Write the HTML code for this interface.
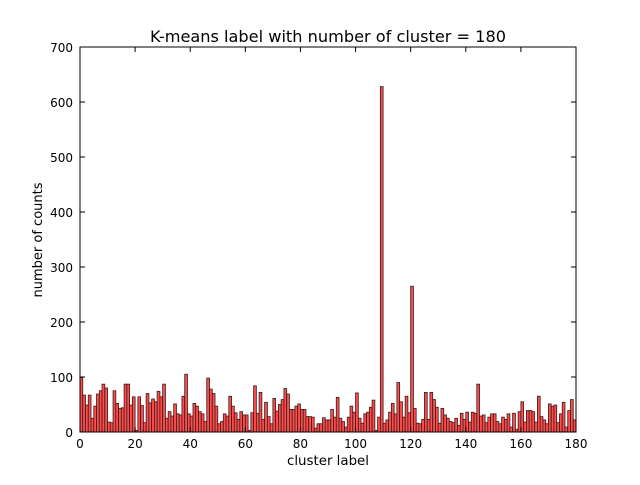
<!DOCTYPE html>
<html><head><meta charset="utf-8"><style>
body{margin:0;background:#fff;}
svg text{font-family:"DejaVu Sans","Liberation Sans",sans-serif;}
</style></head><body>
<svg id="chart" width="640" height="480">
<rect x="0" y="0" width="640" height="480" fill="#fff"/>
<text x="328" y="42" font-size="16" text-anchor="middle" textLength="356" lengthAdjust="spacingAndGlyphs">K-means label with number of cluster = 180</text>
<g id="bars"></g>
<rect x="80" y="47" width="496" height="385" fill="none" stroke="#000" stroke-width="1"/>
<g id="axes"></g>
<text x="328" y="465" font-size="13" text-anchor="middle" textLength="82" lengthAdjust="spacingAndGlyphs">cluster label</text>
<text x="42" y="240" font-size="13" text-anchor="middle" transform="rotate(-90 42 240)">number of counts</text>
</svg>
<script>
const counts = [].concat(
[99,67,49,67,25,47,69,75,87,80,18,17,75,52,43,44,87,87,49,64,3,64,48,17,70,53,60,55,74,64],
[87,25,37,29,51,33,31,65,105,33,29,52,47,37,33,19,98,78,70,47,15,19,33,29,65,47,35,23,37,31],
[31,3,35,84,34,72,23,54,28,15,61,38,50,59,79,69,41,41,47,51,41,41,28,28,27,7,15,15,26,22],
[22,41,27,63,25,19,9,27,47,36,71,25,16,33,36,45,58,3,27,628,16,22,36,52,33,90,55,27,65,35],
[265,43,16,15,23,72,23,72,59,45,16,43,31,25,19,17,25,12,34,23,36,18,36,34,87,29,31,17,27,33],
[33,19,15,27,23,33,9,34,5,37,55,18,39,39,37,18,65,28,22,15,51,47,49,17,33,54,9,39,59,22]
);
const xTicks = [0,20,40,60,80,100,120,140,160,180];
const yTicks = [0,100,200,300,400,500,600,700];
const X0=80,X1=576,Y0=432,Y1=47;
function sx(v){return X0+(v/180)*(X1-X0);}
function sy(v){return Y0-(v/700)*(Y0-Y1);}
const NS="http://www.w3.org/2000/svg";
const bars=document.getElementById('bars');
counts.forEach((c,i)=>{
  const r=document.createElementNS(NS,'rect');
  
  
  r.setAttribute('x',sx(i));
  r.setAttribute('y',sy(c));
  r.setAttribute('width',sx(i+1)-sx(i));
  r.setAttribute('height',Y0-sy(c));
  r.setAttribute('fill','#ff4d4d');
  r.setAttribute('stroke','#3a1a1a');
  r.setAttribute('stroke-width','0.8');
  bars.appendChild(r);
});
const axes=document.getElementById('axes');
function line(x1,y1,x2,y2){const l=document.createElementNS(NS,'line');l.setAttribute('x1',x1);l.setAttribute('y1',y1);l.setAttribute('x2',x2);l.setAttribute('y2',y2);l.setAttribute('stroke','#000');l.setAttribute('stroke-width','1');axes.appendChild(l);return l;}
function txt(x,y,s,anchor){const t=document.createElementNS(NS,'text');t.setAttribute('x',x);t.setAttribute('y',y);t.setAttribute('font-size','12');t.setAttribute('text-anchor',anchor);t.textContent=s;axes.appendChild(t);return t;}
xTicks.forEach(v=>{
  const x=sx(v);
  const a=line(x,Y0,x,Y0-5);
  
  
  const b=line(x,Y1,x,Y1+5);
  
  
  const t=txt(x,Y0+16,String(v),'middle');
  
  
});
yTicks.forEach(v=>{
  const y=sy(v);
  const a=line(X0,y,X0+5,y);
  
  
  const b=line(X1,y,X1-5,y);
  
  
  const t=txt(X0-7,y+5,String(v),'end');
  
  
});
</script>
</body></html>
